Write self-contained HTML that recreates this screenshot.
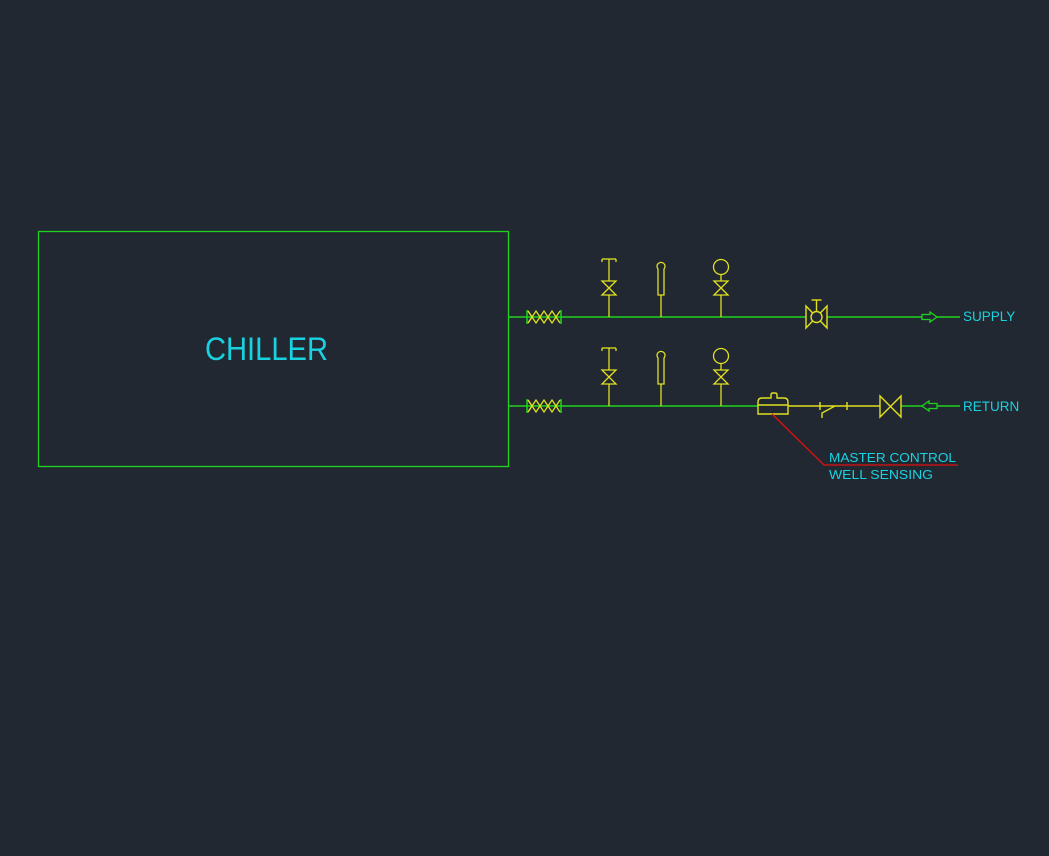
<!DOCTYPE html>
<html><head><meta charset="utf-8"><style>
html,body{margin:0;padding:0;background:#222831;}
svg{display:block}
text{font-family:"Liberation Sans",sans-serif;fill:#19d2e0}
</style></head><body>
<svg width="1049" height="856" viewBox="0 0 1049 856" xmlns="http://www.w3.org/2000/svg">
<rect width="1049" height="856" fill="#222831"/>
<defs>
<g id="flex">
 <line x1="0" y1="-7" x2="0" y2="7" stroke="#1fd21f" stroke-width="1.5"/>
 <line x1="34" y1="-7" x2="34" y2="7" stroke="#1fd21f" stroke-width="1.5"/>
 <polyline points="1,-6 5,0 1,6" fill="none" stroke="#e0e020" stroke-width="1.3"/>
 <polyline points="1,-6 9,6 17,-6 25,6 33,-6" fill="none" stroke="#e0e020" stroke-width="1.3"/>
 <polyline points="1,6 9,-6 17,6 25,-6 33,6" fill="none" stroke="#e0e020" stroke-width="1.3"/>
</g>
<g id="inst" fill="none" stroke="#e0e020" stroke-width="1.3">
 <!-- T valve at x=609 -->
 <line x1="602" y1="-58" x2="616" y2="-58"/>
 <line x1="602" y1="-58" x2="602" y2="-55"/><line x1="616" y1="-58" x2="616" y2="-55"/>
 <line x1="609" y1="-58" x2="609" y2="-36"/>
 <polygon points="602,-36 616,-36 602,-22 616,-22"/>
 <line x1="609" y1="-22" x2="609" y2="0"/>
 <!-- thermometer x=661 -->
 <path d="M658,-22 L658,-48 A4,4 0 1 1 664,-48 L664,-22 Z"/>
 <line x1="661" y1="-22" x2="661" y2="0"/>
 <!-- gauge x=721 -->
 <circle cx="721" cy="-50" r="7.5"/>
 <line x1="721" y1="-42" x2="721" y2="-36"/>
 <polygon points="714,-36 728,-36 714,-22 728,-22"/>
 <line x1="721" y1="-22" x2="721" y2="0"/>
</g>
</defs>
<!-- chiller -->
<rect x="38.5" y="231.5" width="470" height="235" fill="none" stroke="#1fd21f" stroke-width="1.3"/>
<text x="205" y="360" font-size="32.5" textLength="123" lengthAdjust="spacingAndGlyphs" style="font-weight:300">CHILLER</text>
<!-- supply -->
<line x1="508" y1="317" x2="806" y2="317" stroke="#1fd21f" stroke-width="1.5"/>
<line x1="827" y1="317" x2="922" y2="317" stroke="#1fd21f" stroke-width="1.5"/>
<line x1="937" y1="317" x2="960" y2="317" stroke="#1fd21f" stroke-width="1.5"/>
<use href="#flex" x="527" y="317"/>
<use href="#inst" x="0" y="317"/>
<g fill="none" stroke="#e0e020" stroke-width="1.4">
 <polygon points="806,306 806,328 827,306 827,328"/>
 <circle cx="816.5" cy="317" r="5.5" fill="#222831"/>
 <line x1="816.5" y1="300" x2="816.5" y2="311.5"/>
 <line x1="811.5" y1="300" x2="821.5" y2="300"/>
</g>
<polygon points="922,314.5 930,314.5 930,312 937,317 930,322 930,319.5 922,319.5" fill="none" stroke="#1fd21f" stroke-width="1.3"/>
<text x="963" y="321" font-size="13.5">SUPPLY</text>
<!-- return -->
<line x1="508" y1="406" x2="758" y2="406" stroke="#1fd21f" stroke-width="1.5"/>
<line x1="901" y1="406" x2="922" y2="406" stroke="#1fd21f" stroke-width="1.5"/>
<line x1="937" y1="406" x2="960" y2="406" stroke="#1fd21f" stroke-width="1.5"/>
<use href="#flex" x="527" y="406"/>
<use href="#inst" x="0" y="406"/>
<g fill="none" stroke="#e0e020" stroke-width="1.4">
 <path d="M758,414 L758,402 Q758,398 762,398 L771,398 L771,395 Q771,393 773,393 L775,393 Q777,393 777,395 L777,398 L784,398 Q788,398 788,402 L788,414 Z"/>
 <line x1="758" y1="405" x2="788" y2="405"/>
 <line x1="788" y1="406" x2="880" y2="406"/>
 <line x1="820" y1="402" x2="820" y2="410"/>
 <line x1="847" y1="402" x2="847" y2="410"/>
 <polyline points="822,418 822,413 835,406"/>
 <polygon points="880,396 880,417 901,396 901,417"/>
</g>
<polygon points="937,403.5 929,403.5 929,401 922,406 929,411 929,408.5 937,408.5" fill="none" stroke="#1fd21f" stroke-width="1.3"/>
<text x="963" y="411" font-size="13.5">RETURN</text>
<!-- leader -->
<polyline points="772,414 824,465 958,465" fill="none" stroke="#e01010" stroke-width="1.3"/>
<text x="829" y="462" font-size="12.5" textLength="127" lengthAdjust="spacingAndGlyphs">MASTER CONTROL</text>
<text x="829" y="479" font-size="12.5" textLength="104" lengthAdjust="spacingAndGlyphs">WELL SENSING</text>
</svg>
</body></html>
